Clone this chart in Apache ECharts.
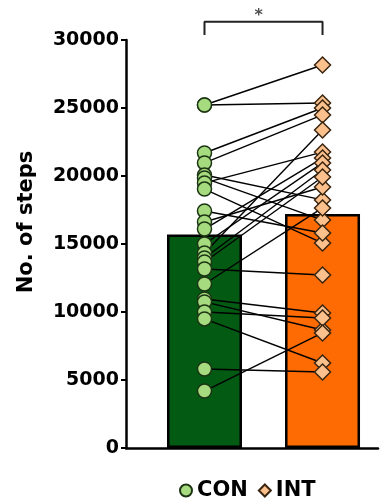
<!DOCTYPE html>
<html>
<head>
<meta charset="utf-8">
<script src="https://cdn.jsdelivr.net/npm/echarts@6/dist/echarts.min.js"></script>
<style>html,body{margin:0;padding:0;background:#fff;}#c{width:391px;height:501px;}</style>
</head>
<body>
<div id="c"></div>
<script>
const categories = ['CON', 'INT'];
const categoryPos = [1, 2];
const barMeans = [15700, 17200];
const conSteps = [25220, 25220, 21690, 20960, 20070, 19850, 19490, 19040, 17430, 16620, 16100, 15000, 14340, 13970, 13680, 13160, 12060, 10960, 10740, 10000, 9490, 5810, 4190];
const intSteps = [28160, 25370, 25000, 24490, 18240, 16760, 21760, 15070, 15810, 19190, 21320, 20960, 23380, 20440, 19930, 12720, 17650, 9930, 8680, 9560, 6250, 5590, 8460];
const yTicks = { min: 0, max: 30000, interval: 5000 };
const bracket = { low: 30370, high: 31350, label: '*', starY: 31800 };

const FONT = 'DejaVu Sans, Liberation Sans, Arial, sans-serif';
const chart = echarts.init(document.getElementById('c'), null, { renderer: 'canvas' });

const pairLines = conSteps.map((c, i) => ({
  type: 'line',
  data: [[categoryPos[0], c], [categoryPos[1], intSteps[i]]],
  symbol: 'none',
  silent: true,
  z: 3,
  lineStyle: { color: '#000', width: 1.4 },
  animation: false
}));

const option = {
  animation: false,
  backgroundColor: '#fff',
  grid: { left: 126, right: 13, top: 40, bottom: 53 },
  xAxis: {
    type: 'value', min: 0.335, max: 2.47,
    axisLine: { show: true, onZero: false, lineStyle: { color: '#000', width: 2.5 } },
    axisTick: { show: false }, axisLabel: { show: false }, splitLine: { show: false }
  },
  yAxis: {
    type: 'value', min: yTicks.min, max: yTicks.max, interval: yTicks.interval,
    name: 'No. of steps', nameLocation: 'middle', nameGap: 89,
    nameTextStyle: { fontFamily: FONT, fontWeight: 'bold', fontSize: 21, color: '#000', padding: [0, 0, 0, 44] },
    axisLine: { show: true, lineStyle: { color: '#000', width: 2.5 } },
    axisTick: { show: true, length: 5, lineStyle: { color: '#000', width: 2 } },
    axisLabel: { fontFamily: FONT, fontWeight: 'bold', fontSize: 19, color: '#000', margin: 7, formatter: v => String(v) },
    splitLine: { show: false }
  },
  legend: {
    data: categories, bottom: 0, left: 179, padding: 0, itemGap: 10, itemWidth: 12, itemHeight: 12,
    textStyle: { fontFamily: FONT, fontWeight: 'bold', fontSize: 21, color: '#000' }
  },
  series: [
    {
      type: 'bar', barWidth: 75, z: 1, silent: true,
      data: [
        { value: [categoryPos[0], barMeans[0]], itemStyle: { color: '#035a12' } },
        { value: [categoryPos[1], barMeans[1]], itemStyle: { color: '#fe6b02' } }
      ],
      itemStyle: { borderColor: '#000', borderWidth: 2.5 }
    },
    ...pairLines,
    {
      name: categories[0], type: 'scatter', z: 5, symbol: 'circle', symbolSize: 14,
      data: conSteps.map(v => [categoryPos[0], v]),
      itemStyle: { color: '#a7db7f', borderColor: '#1c3514', borderWidth: 1.5, opacity: 1 }
    },
    {
      name: categories[1], type: 'scatter', z: 5, symbol: 'diamond', symbolSize: 16,
      data: intSteps.map(v => [categoryPos[1], v]),
      itemStyle: { color: '#fbc08c', borderColor: '#3a2510', borderWidth: 1.5, opacity: 1 }
    },
    {
      type: 'line', clip: false, symbol: 'none', silent: true, z: 6,
      data: [[categoryPos[0], bracket.low], [categoryPos[0], bracket.high], [categoryPos[1], bracket.high], [categoryPos[1], bracket.low]],
      lineStyle: { color: '#222', width: 2 }
    },
    {
      type: 'scatter', clip: false, symbolSize: 1, silent: true, z: 6,
      data: [[1.46, bracket.starY]],
      itemStyle: { color: 'rgba(0,0,0,0)' },
      label: { show: true, position: 'inside', formatter: bracket.label, fontFamily: FONT, fontSize: 16, fontWeight: 'bold', color: '#222' }
    }
  ]
};
chart.setOption(option);
</script>
</body>
</html>
